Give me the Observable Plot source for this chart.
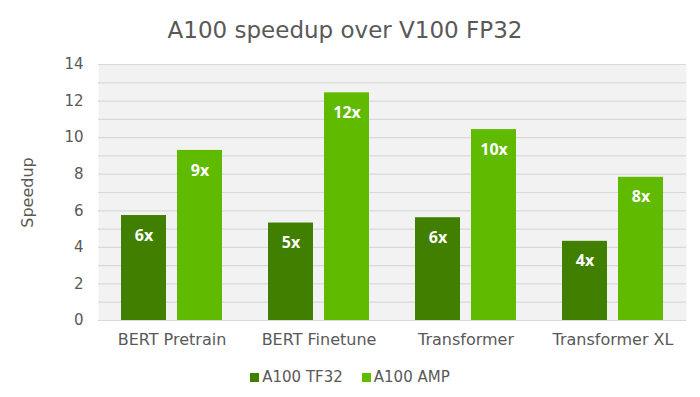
<!DOCTYPE html>
<html>
<head>
<meta charset="utf-8">
<script src="https://cdn.jsdelivr.net/npm/d3@7"></script>
<script src="https://cdn.jsdelivr.net/npm/@observablehq/plot@0.6"></script>
<style>
  body { margin: 0; background: #ffffff; font-family: "DejaVu Sans", sans-serif; color: #595959; width: 700px; }
  #title { width: 690px; height: 31px; padding-top: 19px; line-height: 23px; font-size: 23px; text-align: center; color: #595959; }
  #legend { width: 700px; height: 44px; display: flex; justify-content: center; align-items: center; font-size: 15px; color: #595959; }
  .item { display: flex; align-items: center; }
  .swatch { width: 9px; height: 9px; margin-right: 3px; }
</style>
</head>
<body>
<div id="title">A100 speedup over V100 FP32</div>
<div id="chart"></div>
<div id="legend"></div>
<script>
const categories = ["BERT Pretrain", "BERT Finetune", "Transformer", "Transformer XL"];
const tf32Values = [5.74, 5.33, 5.62, 4.33];
const ampValues = [9.30, 12.45, 10.44, 7.83];
const tf32Labels = ["6x", "5x", "6x", "4x"];
const ampLabels = ["9x", "12x", "10x", "8x"];
const yTicks = [0, 2, 4, 6, 8, 10, 12, 14];
const gridValues = [0, 1, 2, 3, 4, 5, 6, 7, 8, 9, 10, 11, 12, 13, 14];
const yTitle = "Speedup";
const seriesNames = ["A100 TF32", "A100 AMP"];
const seriesColors = ["#407f00", "#5fba00"];

const tf32Rows = categories.map((c, i) => ({category: c, value: tf32Values[i], label: tf32Labels[i]}));
const ampRows = categories.map((c, i) => ({category: c, value: ampValues[i], label: ampLabels[i]}));

const chart = Plot.plot({
  width: 700,
  height: 305,
  marginTop: 14,
  marginBottom: 35,
  marginLeft: 98,
  marginRight: 14,
  style: {fontFamily: "DejaVu Sans, sans-serif", fontSize: "15px", color: "#595959", background: "transparent"},
  x: {domain: categories, paddingInner: 0.313, paddingOuter: 0.156},
  y: {domain: [0, 14]},
  marks: [
    Plot.frame({fill: "#f2f2f2", stroke: null}),
    Plot.ruleY(gridValues, {stroke: "#d9d9d9", strokeWidth: 1.2}),
    Plot.barY(tf32Rows, {x: "category", y: "value", fill: seriesColors[0], insetRight: 56}),
    Plot.barY(ampRows, {x: "category", y: "value", fill: seriesColors[1], insetLeft: 56}),
    Plot.text(tf32Rows, {x: "category", y: "value", text: "label", dx: -28, dy: 20, fill: "white", fontWeight: "bold", fontSize: 16, fontFamily: "Open Sans, sans-serif"}),
    Plot.text(ampRows, {x: "category", y: "value", text: "label", dx: 28, dy: 20, fill: "white", fontWeight: "bold", fontSize: 16, fontFamily: "Open Sans, sans-serif"}),
    Plot.axisX({tickSize: 0, tickPadding: 13, label: null, fontSize: 16}),
    Plot.axisY(yTicks, {tickSize: 0, tickPadding: 15, label: null, fontSize: 15}),
    Plot.text([yTitle], {frameAnchor: "left", textAnchor: "middle", dx: -71, rotate: -90, fontSize: 16, fill: "#595959"})
  ]
});
document.getElementById("chart").appendChild(chart);

const legend = document.getElementById("legend");
seriesNames.forEach((name, i) => {
  const item = document.createElement("div");
  item.className = "item";
  if (i > 0) item.style.marginLeft = "19px";
  const sw = document.createElement("span");
  sw.className = "swatch";
  sw.style.background = seriesColors[i];
  const tx = document.createElement("span");
  tx.textContent = name;
  item.appendChild(sw);
  item.appendChild(tx);
  legend.appendChild(item);
});
</script>
</body>
</html>
